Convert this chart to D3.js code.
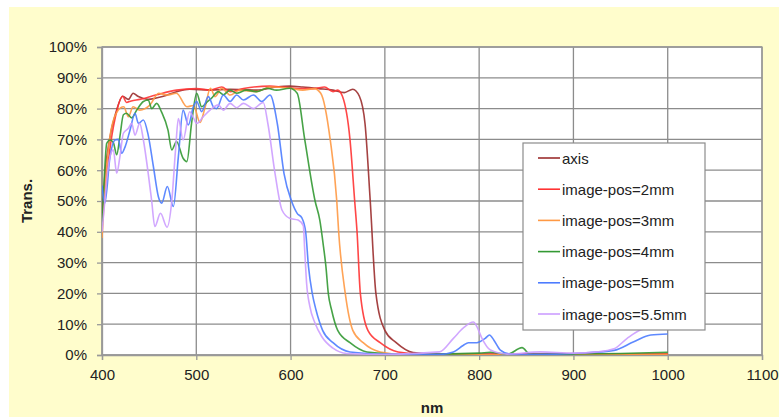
<!DOCTYPE html>
<html>
<head>
<meta charset="utf-8">
<script src="https://cdn.jsdelivr.net/npm/d3@7"></script>
<style>
  html, body { margin: 0; padding: 0; background: #ffffff; }
  svg { display: block; }
  text { font-family: "Liberation Sans", Arial, sans-serif; fill: #222; }
</style>
</head>
<body>
<svg id="chart" width="779" height="418"></svg>
<script>
// Transmission spectra (nm, %) for each image position
const seriesNames = ["axis", "image-pos=2mm", "image-pos=3mm", "image-pos=4mm", "image-pos=5mm", "image-pos=5.5mm"];
const seriesColors = ["#9b2d2d", "#ff3333", "#ff9944", "#339933", "#4d7cff", "#cc9dff"];

const axisNm = [400, 403, 408, 415, 422, 428, 433, 438, 449, 465, 479, 493, 515, 536, 564, 585, 599, 613, 630, 645, 657, 666, 673, 679, 684.5, 690.5, 700, 712, 730, 760, 800, 850, 900, 950, 1000];
const axisT  = [42, 58, 70, 79, 84, 83, 85, 84, 83, 84, 85.5, 86.3, 86, 86.3, 86, 87, 87.3, 87, 86.5, 86, 85.2, 86.3, 84, 75, 50, 20, 8, 4, 0.8, 0.3, 0.3, 0.3, 0.3, 0.3, 0.4];

const pos2Nm = [400, 405, 408, 414, 422, 426, 431, 440, 458, 479, 500, 515, 527, 536, 550, 578, 592, 613, 625, 636, 645, 650, 655, 663, 668, 670.5, 674, 682, 695, 714, 740, 800, 880, 950, 1000];
const pos2T  = [45, 58, 66, 77, 84, 82, 82.5, 83, 84.5, 86, 86.5, 86, 87, 85.5, 86.5, 87.3, 87, 86.5, 86.5, 87, 85.5, 86, 84, 70, 50, 40, 20, 8, 4, 1, 0.3, 0.2, 0.5, 0.2, 0.3];

const pos3Nm = [400, 404, 408, 416, 423, 428, 433, 440, 451, 460, 469, 479, 490, 497, 504, 509, 515, 520, 527, 536, 546, 564, 578, 599, 613, 625, 632, 642, 649, 651, 658, 666, 677, 695, 720, 800, 900, 1000];
const pos3T  = [38, 58, 70, 79, 80.6, 77.4, 80.6, 79.5, 81.2, 85, 84.4, 85, 80.6, 81, 75.5, 80, 86.6, 83.9, 86.6, 84.4, 86, 85.5, 87, 86.6, 86, 86.5, 85, 70, 50, 40, 20, 8, 4, 1, 0.2, 0.1, 0.1, 0.2];

const pos4Nm = [400, 402, 405, 408.5, 412, 415.6, 419, 422.7, 426, 431.5, 436.8, 443.9, 449, 452.7, 458, 463, 470, 474, 479, 486, 490, 495, 500.4, 505.7, 511, 516, 523.4, 528.7, 535.8, 542.8, 553, 564, 575, 585, 599, 607, 615, 626, 631, 635, 637.5, 640, 643.5, 650, 663, 681, 720, 800, 812, 830, 845.5, 854, 900, 950, 1000];
const pos4T  = [42, 55, 68.7, 69.8, 69, 65, 71, 78, 78.5, 77, 79.5, 82.3, 82.8, 80, 81.7, 79, 73, 66.6, 69.3, 63.9, 62.8, 75.2, 85, 80.6, 82, 83.3, 85.5, 84.5, 86, 85, 86, 85.5, 86.6, 86, 86.6, 85, 70, 50, 43.8, 35, 28.7, 20, 14.6, 8, 4, 1, 0.2, 0.6, 0.9, 0.2, 2.4, 0.2, 0.3, 0.5, 0.9];

const pos5Nm = [400, 403, 408.5, 413.8, 417.3, 420.9, 424.4, 429.7, 435, 438.6, 443.9, 449, 454.5, 459.8, 463.3, 469.3, 475.7, 481, 486, 491.6, 496.9, 500.4, 505.7, 512.8, 518, 521.6, 528.7, 535.8, 542.8, 550, 560.5, 569.4, 578.2, 586, 593, 601, 607, 612, 616, 619, 623, 627, 634, 645, 663, 700, 758, 772.7, 783, 788.6, 797.6, 806.5, 811, 815.5, 822.5, 833, 865, 918, 943, 964, 982, 1000];
const pos5T  = [55, 49.3, 64.4, 69.8, 70, 65.5, 67.5, 73, 78.5, 75.2, 76.3, 71.4, 61.2, 51.4, 49.3, 54.7, 48.2, 64.4, 79.5, 74.7, 80.6, 82.3, 79, 83.9, 80.6, 80, 84.4, 82.3, 84.4, 82.8, 84.4, 82.3, 84.4, 75, 59, 50, 46, 44.5, 40, 28.7, 20, 14.6, 8, 4, 1, 0.3, 0.2, 1, 3.1, 4, 4, 5.4, 6.5, 4.9, 1.6, 0.3, 0.2, 0.8, 1.5, 4.3, 6.5, 6.8];

const pos55Nm = [400, 403, 405, 408.5, 412, 415.6, 419, 422.7, 428, 431.5, 435, 440, 443.9, 449, 452.7, 456, 462, 469, 474, 478, 481, 486, 493, 497, 500.4, 507.5, 514.6, 523.4, 528.7, 535.8, 542.8, 550, 560.5, 571, 576, 583.5, 591, 599, 608, 613.5, 615, 617, 620.5, 626, 633, 645, 659.5, 700, 758, 772.7, 783, 794, 797.6, 803, 812, 829.6, 865, 900, 925, 943, 957, 971, 978, 990, 1000];
const pos55T  = [40, 50, 56.8, 64.4, 66.6, 59, 64.4, 72, 73.6, 75.2, 71.4, 75.2, 69.8, 59, 50, 41.7, 46, 41.5, 50, 66.6, 76.8, 69.8, 79, 77, 75.2, 77.4, 79.5, 81.2, 79.5, 81.7, 80.3, 81.7, 80, 82, 75, 59, 47, 44.4, 43.8, 42, 34, 23.3, 15.7, 10.3, 6, 2.2, 0.5, 0.2, 1, 5.4, 8.7, 10.7, 9.2, 5.4, 1.6, 0.3, 1, 0.6, 1, 2, 5.4, 8.1, 8.7, 9.2, 9.5];

const xTicks = [400, 500, 600, 700, 800, 900, 1000, 1100];
const yTicks = [0, 10, 20, 30, 40, 50, 60, 70, 80, 90, 100];
const xTitle = "nm";
const yTitle = "Trans.";

const seriesNm = [axisNm, pos2Nm, pos3Nm, pos4Nm, pos5Nm, pos55Nm];
const seriesT  = [axisT, pos2T, pos3T, pos4T, pos5T, pos55T];

const series = seriesNames.map((name, i) => ({
  name,
  color: seriesColors[i],
  points: seriesNm[i].map((nm, j) => ({ nm, t: seriesT[i][j] }))
}));

const svg = d3.select("#chart");
const W = 779, H = 418;
const plot = { left: 102, top: 47, right: 762, bottom: 355 };

// page background panel
svg.append("rect").attr("x", 9).attr("y", 7).attr("width", W - 9).attr("height", 410)
  .attr("fill", "#fffdcc");

const x = d3.scaleLinear().domain([400, 1100]).range([plot.left, plot.right]);
const y = d3.scaleLinear().domain([0, 100]).range([plot.bottom, plot.top]);

// plot area
svg.append("rect")
  .attr("x", plot.left).attr("y", plot.top)
  .attr("width", plot.right - plot.left).attr("height", plot.bottom - plot.top)
  .attr("fill", "#ffffff");

// gridlines
const grid = svg.append("g").attr("stroke", "#8c8c8c").attr("stroke-width", 1.3);
grid.selectAll("line.h").data(yTicks).join("line")
  .attr("x1", plot.left).attr("x2", plot.right)
  .attr("y1", d => y(d)).attr("y2", d => y(d));
grid.selectAll("line.v").data(xTicks).join("line")
  .attr("y1", plot.top).attr("y2", plot.bottom)
  .attr("x1", d => x(d)).attr("x2", d => x(d));

svg.append("rect")
  .attr("x", plot.left).attr("y", plot.top)
  .attr("width", plot.right - plot.left).attr("height", plot.bottom - plot.top)
  .attr("fill", "none").attr("stroke", "#999").attr("stroke-width", 1.3);

// axes
const yAxis = d3.axisLeft(y).tickValues(yTicks).tickFormat(d => d + "%").tickSize(5).tickPadding(10);
const xAxis = d3.axisBottom(x).tickValues(xTicks).tickFormat(d3.format("d")).tickSize(5).tickPadding(9);

const gy = svg.append("g").attr("transform", `translate(${plot.left},0)`).call(yAxis);
const gx = svg.append("g").attr("transform", `translate(0,${plot.bottom})`).call(xAxis);
[gy, gx].forEach(g => {
  g.select(".domain").attr("stroke", "#999").attr("stroke-width", 1.3);
  g.selectAll(".tick line").attr("stroke", "#999").attr("stroke-width", 1.3);
  g.selectAll(".tick text").attr("font-size", 15).attr("fill", "#222")
    .attr("font-family", "Liberation Sans, Arial, sans-serif");
});

// axis titles
svg.append("text").attr("x", 432).attr("y", 413).attr("text-anchor", "middle")
  .attr("font-size", 15).attr("font-weight", "bold").text(xTitle);
svg.append("text").attr("transform", "translate(32,201) rotate(-90)").attr("text-anchor", "middle")
  .attr("font-size", 15).attr("font-weight", "bold").text(yTitle);

// spectra
const line = d3.line()
  .x(d => x(d.nm)).y(d => y(d.t))
  .curve(d3.curveMonotoneX);

svg.append("clipPath").attr("id", "plotclip").append("rect")
  .attr("x", plot.left).attr("y", plot.top)
  .attr("width", plot.right - plot.left).attr("height", plot.bottom - plot.top);

svg.append("g").attr("clip-path", "url(#plotclip)")
  .selectAll("path").data(series).join("path")
  .attr("d", d => line(d.points))
  .attr("fill", "none")
  .attr("stroke", d => d.color)
  .attr("stroke-width", 1.6)
  .attr("stroke-opacity", 0.9)
  .attr("stroke-linejoin", "round");

// legend
const legend = svg.append("g").attr("transform", "translate(523,143)");
legend.append("rect").attr("width", 182).attr("height", 187)
  .attr("fill", "#ffffff").attr("stroke", "#8c8c8c").attr("stroke-width", 1.2);
const items = legend.selectAll("g.item").data(series).join("g")
  .attr("transform", (d, i) => `translate(0,${15 + i * 31.2})`);
items.append("line").attr("x1", 15).attr("x2", 37).attr("y1", 0).attr("y2", 0)
  .attr("stroke", d => d.color).attr("stroke-width", 1.6);
items.append("text").attr("x", 39).attr("y", 5.5).attr("font-size", 15).text(d => d.name);
</script>
</body>
</html>
